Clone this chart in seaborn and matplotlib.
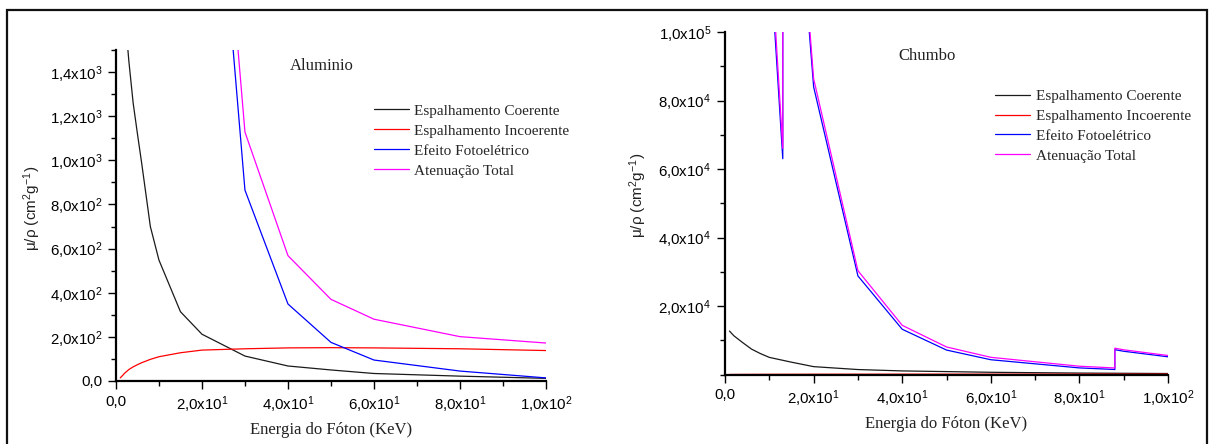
import matplotlib
matplotlib.use("Agg")
import matplotlib.pyplot as plt
import seaborn as sns
import pandas as pd
from matplotlib.ticker import MultipleLocator
from matplotlib.patches import Rectangle

# ---------------- data ----------------
series_names = ["Espalhamento Coerente", "Espalhamento Incoerente",
                "Efeito Fotoelétrico", "Atenuação Total"]
series_colors = ["#1a1a1a", "#ff0000", "#0000ff", "#ff00ff"]

# Aluminio
al_energy = [1, 1.5, 2, 3, 4, 5, 6, 8, 10, 15, 20, 30, 40, 50, 60, 80, 100]
al_coh = [2600, 2050, 1680, 1450, 1260, 1120, 985, 700, 548, 314, 212, 113, 68, 50, 34, 22, 12]
al_incoh = [14, 24, 35, 52, 64, 74, 83, 98, 110, 128, 140, 146, 150, 151, 150, 146, 138]
al_photo = [1185000, 401000, 2262000, 786000, 359000, 192000, 115000, 50300, 25800,
            7690, 3180, 865, 349, 175, 95, 45, 14]
al_total = [1185000, 402000, 2263000, 788000, 360600, 193400, 115300, 50340, 26230,
            7955, 3441, 1128, 568, 370, 280, 201, 172]

# Chumbo
pb_energy_sc = [1, 2, 4, 6, 8, 10, 15, 20, 30, 40, 50, 60, 80, 100]
pb_coh = [12700, 11300, 9300, 7400, 6100, 5000, 3600, 2300, 1450, 1050, 850, 650, 420, 290]
pb_incoh = [10, 20, 35, 45, 52, 58, 70, 80, 92, 100, 104, 107, 110, 112]
pb_energy_pe = [10, 13.035, 13.035, 15.2, 15.2, 15.86, 15.86, 20, 30, 40, 50, 60, 80,
                88.0, 88.0, 90, 100]
pb_photo = [125500, 63000, 158000, 104500, 145200, 131200, 151600, 83980, 28780, 13210,
            7140, 4316, 1929, 1470, 7243, 6787, 5174]
pb_total = [130600, 66000, 162100, 107800, 148500, 134400, 154800, 86360, 30320, 14360,
            8041, 5021, 2419, 1910, 7683, 7217, 5549]

x_ticks = [0, 20, 40, 60, 80, 100]
x_tick_labels = ["0,0", "2,0x10$^{1}$", "4,0x10$^{1}$", "6,0x10$^{1}$",
                 "8,0x10$^{1}$", "1,0x10$^{2}$"]
al_y_ticks = [0, 200, 400, 600, 800, 1000, 1200, 1400]
al_y_tick_labels = ["0,0", "2,0x10$^{2}$", "4,0x10$^{2}$", "6,0x10$^{2}$", "8,0x10$^{2}$",
                    "1,0x10$^{3}$", "1,2x10$^{3}$", "1,4x10$^{3}$"]
pb_y_ticks = [20000, 40000, 60000, 80000, 100000]
pb_y_tick_labels = ["2,0x10$^{4}$", "4,0x10$^{4}$", "6,0x10$^{4}$", "8,0x10$^{4}$",
                    "1,0x10$^{5}$"]

x_label = "Energia do Fóton (KeV)"
y_label = "μ/ρ (cm$^{2}$g$^{-1}$)"

# ---------------- style ----------------
sns.set_theme(style="ticks")
plt.rcParams["font.family"] = ["Liberation Sans", "DejaVu Sans"]
plt.rcParams["mathtext.default"] = "regular"
serif = ["Liberation Serif", "DejaVu Serif"]

fig = plt.figure(figsize=(12.09, 4.44), dpi=100)
ax1 = fig.add_axes([0.0959, 0.1419, 0.3557, 0.7455])
ax2 = fig.add_axes([0.5997, 0.1565, 0.3664, 0.7714])


def draw(ax, datasets):
    for (xs, ys), name, col in zip(datasets, series_names, series_colors):
        df = pd.DataFrame({"E": xs, "mu": ys})
        sns.lineplot(data=df, x="E", y="mu", ax=ax, color=col, lw=0.9,
                     label=name, sort=False, estimator=None)


draw(ax1, [(al_energy, al_coh), (al_energy, al_incoh),
           (al_energy, al_photo), (al_energy, al_total)])
draw(ax2, [(pb_energy_sc, pb_coh), (pb_energy_sc, pb_incoh),
           (pb_energy_pe, pb_photo), (pb_energy_pe, pb_total)])

ax1.set_xlim(0, 100)
ax1.set_ylim(0, 1500)
ax2.set_xlim(0, 100)
ax2.set_ylim(0, 100000)

for ax in (ax1, ax2):
    sns.despine(ax=ax)
    for s in ("left", "bottom"):
        ax.spines[s].set_color("black")
        ax.spines[s].set_linewidth(1.6)
        ax.spines[s].set_zorder(5)
    ax.set_xticks(x_ticks, x_tick_labels)
    ax.xaxis.set_minor_locator(MultipleLocator(10))
    ax.tick_params(which="major", direction="out", length=6, width=1.0,
                   colors="black", labelsize=10.8, pad=4)
    ax.tick_params(which="minor", direction="out", length=3.5, width=1.0, colors="black")
    ax.set_xlabel(x_label, fontsize=12, family=serif, color="#222222")
    ax.set_ylabel(y_label, fontsize=11, color="#222222")

ax1.set_yticks(al_y_ticks, al_y_tick_labels)
ax1.yaxis.set_minor_locator(MultipleLocator(100))
ax2.set_yticks(pb_y_ticks, pb_y_tick_labels)
ax2.yaxis.set_minor_locator(MultipleLocator(10000))

ax1.xaxis.set_label_coords(0.5, -0.124)
ax2.xaxis.set_label_coords(0.5, -0.121)
ax1.yaxis.set_label_coords(-0.17, 0.52)
ax2.yaxis.set_label_coords(-0.172, 0.524)

ax1.text(0.478, 0.952, "Aluminio", transform=ax1.transAxes, ha="center", va="center",
         fontsize=12, family=serif, color="#222222")
ax2.text(0.456, 0.93, "Chumbo", transform=ax2.transAxes, ha="center", va="center",
         fontsize=12, family=serif, color="#222222")

for ax, anchor in ((ax1, (0.6, 0.837)), (ax2, (0.6095, 0.833))):
    ax.legend(loc="upper left", bbox_to_anchor=anchor, frameon=False,
              prop={"family": serif, "size": 11}, handlelength=2.3,
              handletextpad=0.35, labelspacing=0.41, borderpad=0, borderaxespad=0)

fig.patches.append(Rectangle((7 / 1209, -0.1), 1200 / 1209, 1 - 10 / 444 + 0.1,
                             transform=fig.transFigure, fill=False, lw=1.6,
                             edgecolor="#111111", clip_on=False))

fig.savefig("out.png", dpi=100)
